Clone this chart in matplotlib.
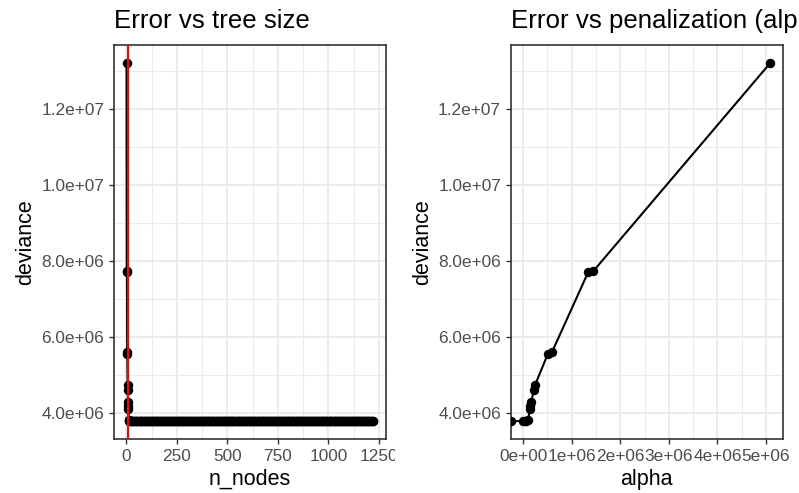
import numpy as np
import matplotlib
matplotlib.use("Agg")
import matplotlib.pyplot as plt
from matplotlib.patches import Rectangle
from matplotlib.ticker import FixedLocator, FuncFormatter

# pruning sequence: small trees first, then the long flat run of large trees
head_nodes = [1, 2, 3, 4, 5, 6, 7, 8, 9, 10, 11, 12]
head_deviance = [13.22e6, 7.73e6, 7.71e6, 5.62e6, 5.56e6, 4.75e6,
                 4.60e6, 4.30e6, 4.18e6, 4.10e6, 3.82e6, 3.81e6]
tail_nodes = list(range(14, 1225, 4))
tail_deviance = [3.79e6] * len(tail_nodes)
best_size = 10

# cost-complexity parameter for each subtree (-inf for the full tree)
alpha = [-np.inf, 0.0, 0.03e6, 0.06e6, 0.10e6, 0.14e6, 0.15e6, 0.17e6,
         0.22e6, 0.25e6, 0.51e6, 0.60e6, 1.34e6, 1.44e6, 5.09e6]
alpha_deviance = [3.79e6, 3.79e6, 3.80e6, 3.80e6, 3.81e6, 4.10e6, 4.18e6,
                  4.30e6, 4.60e6, 4.75e6, 5.56e6, 5.62e6, 7.71e6, 7.73e6,
                  13.22e6]

n_nodes = np.array(head_nodes + tail_nodes)
deviance = np.array(head_deviance + tail_deviance)

S = 1.41  # ggplot pt -> figure pt
plt.rcParams["font.family"] = ["Liberation Sans", "DejaVu Sans"]

GRID = "#EBEBEB"
DARK = "#333333"
TICKTXT = "#4D4D4D"
LW = 1.5


def expand(lo, hi, frac=0.05):
    d = (hi - lo) * frac
    return lo - d, hi + d


def style(ax, xmajor, xminor, ymajor, yminor, xfmt, yfmt):
    ax.set_facecolor("white")
    ax.xaxis.set_major_locator(FixedLocator(xmajor))
    ax.xaxis.set_minor_locator(FixedLocator(xminor))
    ax.yaxis.set_major_locator(FixedLocator(ymajor))
    ax.yaxis.set_minor_locator(FixedLocator(yminor))
    ax.xaxis.set_major_formatter(FuncFormatter(xfmt))
    ax.yaxis.set_major_formatter(FuncFormatter(yfmt))
    ax.grid(True, which="major", color=GRID, lw=1.5, zorder=0)
    ax.grid(True, which="minor", color=GRID, lw=0.75, zorder=0)
    ax.set_axisbelow(True)
    for sp in ax.spines.values():
        sp.set_color(DARK)
        sp.set_linewidth(1.2)
    ax.tick_params(which="major", direction="out", length=2.75 * S,
                   width=1.0, color=DARK, labelcolor=TICKTXT,
                   labelsize=8.8 * S, pad=2.2 * S)
    ax.tick_params(which="minor", length=0)


def ysci(v, _):
    m, e = f"{v:.1e}".split("e")
    return f"{m}e{e[0]}{int(e[1:]):02d}"


def xsci(v, _):
    if v == 0:
        return "0e+00"
    m, e = f"{v:.0e}".split("e")
    return f"{m}e{e[0]}{int(e[1:]):02d}"


fig = plt.figure(figsize=(7.99, 4.93), dpi=100)
ax1 = fig.add_axes([0.1427, 0.1095, 0.3400, 0.7992], zorder=0)
ax2 = fig.add_axes([0.6392, 0.1095, 0.3404, 0.7992], zorder=2)

# white cover so the left panel's overflow is hidden under the right one
fig.add_artist(Rectangle((0.494, 0), 0.506, 1, transform=fig.transFigure,
                         facecolor="white", edgecolor="none", zorder=1))

ylim = expand(min(deviance.min(), min(alpha_deviance)), deviance.max())
ymajor = [4e6, 6e6, 8e6, 10e6, 12e6]
yminor = [5e6, 7e6, 9e6, 11e6, 13e6]

# left: deviance against tree size
ax1.plot(n_nodes, deviance, color="black", lw=LW, zorder=2)
ax1.plot(n_nodes, deviance, "o", color="black", ms=6.8, mew=0, zorder=3)
ax1.axvline(best_size, color="red", lw=LW, zorder=4)
ax1.set_xlim(*expand(n_nodes.min() - 1, n_nodes.max()))
ax1.set_ylim(*ylim)
style(ax1, [0, 250, 500, 750, 1000, 1250],
      [125, 375, 625, 875, 1125], ymajor, yminor,
      lambda v, _: f"{int(v)}", ysci)
ax1.set_xlabel("n_nodes", fontsize=11 * S, labelpad=2.75 * S)
ax1.set_ylabel("deviance", fontsize=11 * S, labelpad=2.75 * S)
ax1.set_title("Error vs tree size", loc="left", fontsize=13.2 * S, pad=12.5)

# right: deviance against alpha; -inf lands on the panel edge
a = np.array(alpha)
finite = a[np.isfinite(a)]
xlim2 = expand(finite.min(), finite.max())
a_draw = np.where(np.isinf(a), xlim2[0], a)
ax2.plot(a_draw, alpha_deviance, color="black", lw=LW, zorder=2)
ax2.plot(a_draw, alpha_deviance, "o", color="black", ms=6.8, mew=0, zorder=3)
ax2.set_xlim(*xlim2)
ax2.set_ylim(*ylim)
style(ax2, [0, 1e6, 2e6, 3e6, 4e6, 5e6],
      [0.5e6, 1.5e6, 2.5e6, 3.5e6, 4.5e6], ymajor, yminor, xsci, ysci)
ax2.set_xlabel("alpha", fontsize=11 * S, labelpad=2.75 * S)
ax2.set_ylabel("deviance", fontsize=11 * S, labelpad=2.75 * S)
ax2.set_title("Error vs penalization (alpha)", loc="left",
              fontsize=13.2 * S, pad=12.5)

fig.savefig("out.png", dpi=100)
